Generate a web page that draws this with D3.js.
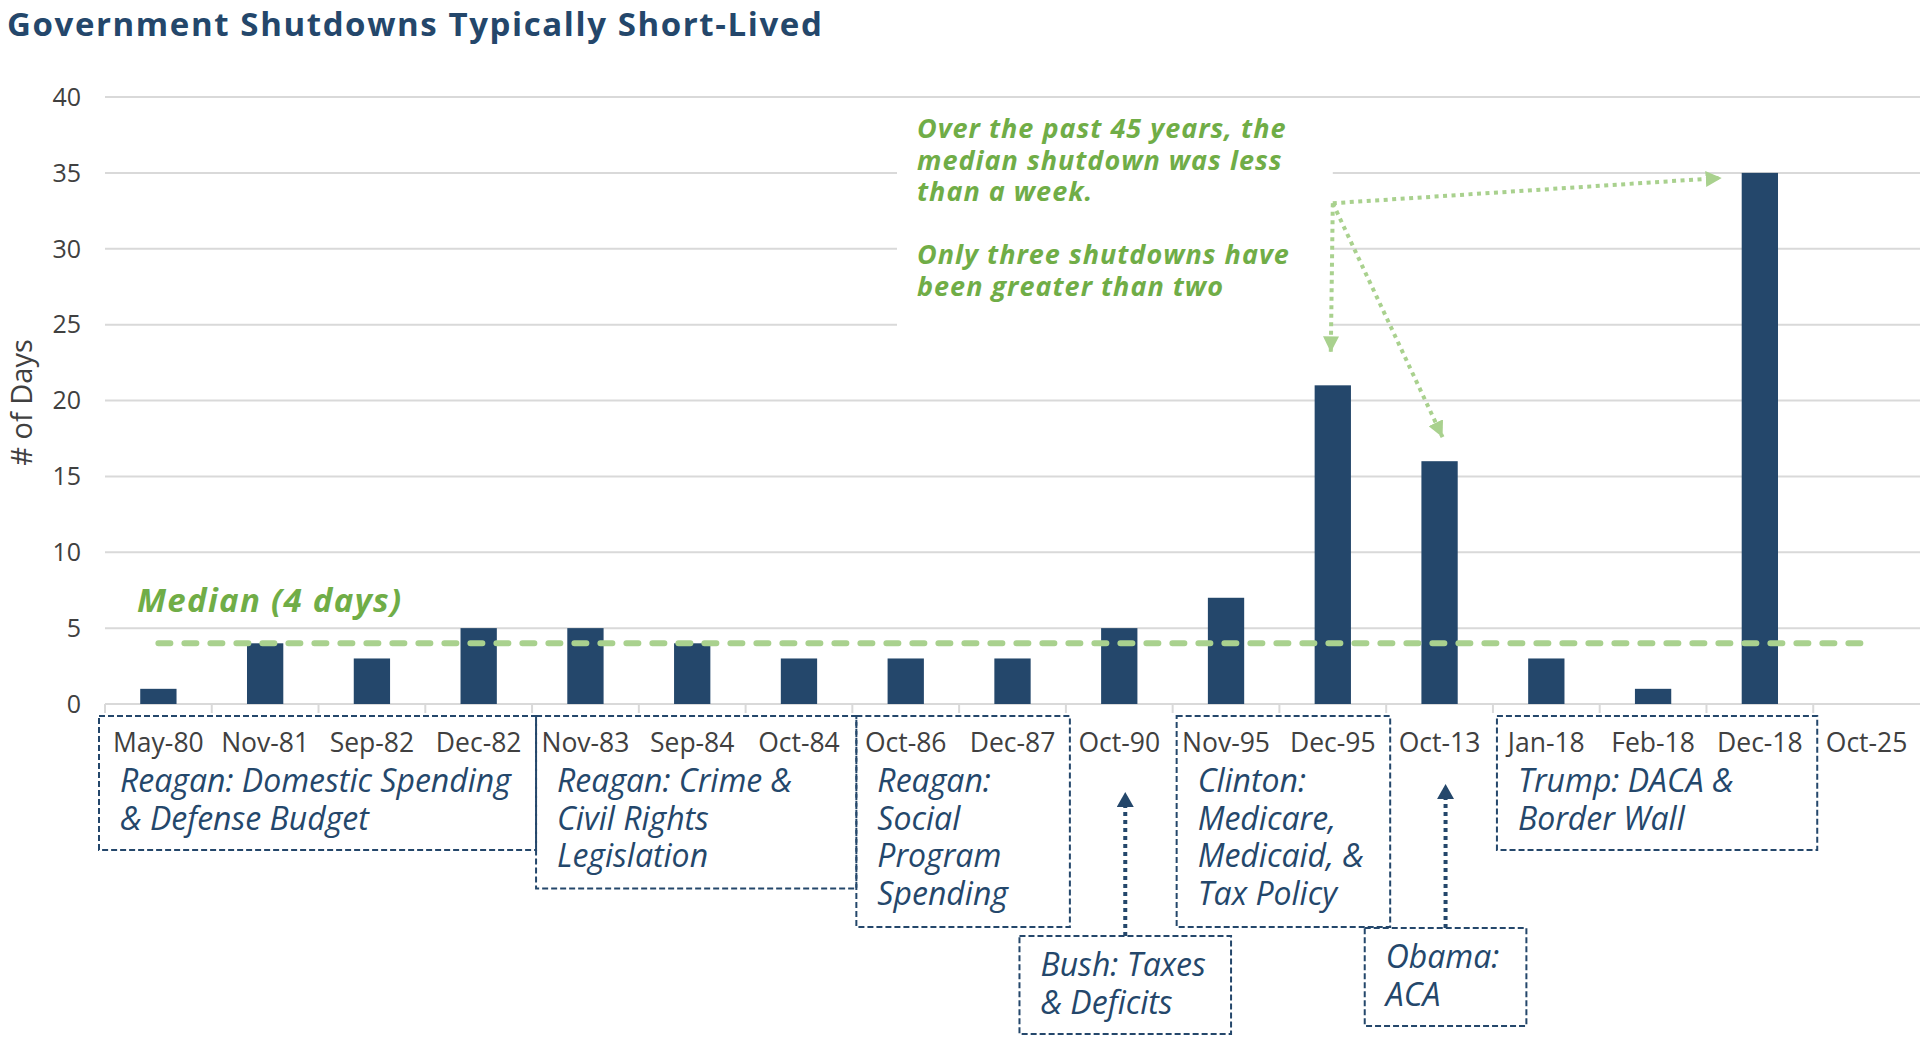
<!DOCTYPE html>
<html>
<head>
<meta charset="utf-8">
<script src="https://cdn.jsdelivr.net/npm/d3@7"></script>
<style>
	body { margin: 0; background: #fff; }
	svg text { font-family: "Open Sans", sans-serif; }
</style>
</head>
<body>
<svg id="chart"></svg>
<script>
// Data
const categories = ["May-80", "Nov-81", "Sep-82", "Dec-82", "Nov-83", "Sep-84", "Oct-84", "Oct-86", "Dec-87",
	"Oct-90", "Nov-95", "Dec-95", "Oct-13", "Jan-18", "Feb-18", "Dec-18", "Oct-25"];
const days = [1, 4, 3, 5, 5, 4, 3, 3, 3, 5, 7, 21, 16, 3, 1, 35, 0];
const yTicks = [0, 5, 10, 15, 20, 25, 30, 35, 40];
const medianDays = 4;
const medianLabel = "Median (4 days)";
const titleText = "Government Shutdowns Typically Short-Lived";
const yLabel = "# of Days";

// green callout text and the bars it points at
const calloutLines = ["Over the past 45 years, the", "median shutdown was less", "than a week.", "",
	"Only three shutdowns have", "been greater than two"];
const calloutTargets = ["Dec-18", "Dec-95", "Oct-13"];

// dashed boxes that group the x labels by administration
const groupBoxes = [
	{ from: "May-80", to: "Dec-82", lines: ["Reagan: Domestic Spending", "& Defense Budget"] },
	{ from: "Nov-83", to: "Oct-84", lines: ["Reagan: Crime &", "Civil Rights", "Legislation"] },
	{ from: "Oct-86", to: "Dec-87", lines: ["Reagan:", "Social", "Program", "Spending"] },
	{ from: "Nov-95", to: "Dec-95", lines: ["Clinton:", "Medicare,", "Medicaid, &", "Tax Policy"] },
	{ from: "Jan-18", to: "Dec-18", lines: ["Trump: DACA &", "Border Wall"] }
];
// boxes hanging below, with an arrow up to one label
const pointerBoxes = [
	{ at: "Oct-90", lines: ["Bush: Taxes", "& Deficits"] },
	{ at: "Oct-13", lines: ["Obama:", "ACA"] }
];

const navy = "#24476b";
const green = "#70ad47";
const lightGreen = "#a9d18e";
const grey = "#404040";

function whenDocumentLoaded(action) {
	if (document.readyState === "loading") {
		document.addEventListener("DOMContentLoaded", action);
	} else {
		action();
	}
}

whenDocumentLoaded(() => {
	const W = 1920, H = 1046;
	const svg = d3.select("#chart").attr("width", W).attr("height", H);

	const x = d3.scaleBand().domain(categories).range([105, 1920]).paddingInner(0.66).paddingOuter(0.33);
	const band = d3.scaleBand().domain(categories).range([105, 1920]); // full slots, for ticks and boxes
	const y = d3.scaleLinear().domain([0, 40]).range([704, 97]);
	const cx = c => band(c) + band.bandwidth() / 2;

	const defs = svg.append("defs");
	addArrow(defs, "arrow-green", lightGreen, 16, 16);
	addArrow(defs, "arrow-navy", navy, 15, 17);

	// title
	svg.append("text")
		.attr("x", 7).attr("y", 36)
		.attr("font-size", 33).attr("font-weight", 700)
		.attr("letter-spacing", 1.6)
		.attr("fill", navy)
		.text(titleText);

	// gridlines + y labels
	svg.append("g")
		.selectAll("line").data(yTicks).join("line")
		.attr("x1", 105).attr("x2", 1920)
		.attr("y1", d => y(d)).attr("y2", d => y(d))
		.attr("stroke", "#d9d9d9").attr("stroke-width", 2);

	svg.append("g")
		.selectAll("text").data(yTicks).join("text")
		.attr("x", 81).attr("y", d => y(d)).attr("dy", "0.35em")
		.attr("text-anchor", "end")
		.attr("font-size", 25).attr("fill", grey)
		.text(d => d);

	svg.append("text")
		.attr("transform", `translate(32,${y(20) + 2}) rotate(-90)`)
		.attr("text-anchor", "middle")
		.attr("font-size", 29).attr("fill", grey)
		.text(yLabel);

	// tick marks below the zero line
	svg.append("g")
		.selectAll("line").data(categories).join("line")
		.attr("x1", d => band(d)).attr("x2", d => band(d))
		.attr("y1", y(0)).attr("y2", y(0) + 9)
		.attr("stroke", "#d9d9d9").attr("stroke-width", 2);

	// white patch behind the callout text (hides gridlines)
	const origin = [cx("Dec-95"), y(33)];
	const callout = svg.append("g");
	const calloutBg = callout.append("rect").attr("fill", "#fff");
	const calloutText = callout.append("text")
		.attr("font-size", 27).attr("font-weight", 700).attr("font-style", "italic")
		.attr("letter-spacing", 1)
		.attr("fill", green);
	calloutText.selectAll("tspan").data(calloutLines).join("tspan")
		.attr("x", 917).attr("y", (d, i) => 138 + i * 31.5)
		.text(d => d);
	const bb = calloutText.node().getBBox();
	calloutBg.attr("x", bb.x - 20).attr("y", bb.y - 4)
		.attr("width", origin[0] - bb.x + 20).attr("height", bb.height + 36);

	// bars
	svg.append("g")
		.selectAll("rect").data(categories).join("rect")
		.attr("x", d => x(d))
		.attr("y", (d, i) => y(days[i]))
		.attr("width", x.bandwidth())
		.attr("height", (d, i) => y(0) - y(days[i]))
		.attr("fill", navy);

	// median line + label
	svg.append("line")
		.attr("x1", cx(categories[0])).attr("x2", cx(categories[categories.length - 1]))
		.attr("y1", y(medianDays)).attr("y2", y(medianDays))
		.attr("stroke", lightGreen).attr("stroke-width", 6)
		.attr("stroke-dasharray", "12 14").attr("stroke-linecap", "round");

	svg.append("text")
		.attr("x", 137).attr("y", 612)
		.attr("font-size", 33).attr("font-weight", 700).attr("font-style", "italic")
		.attr("letter-spacing", 1.3)
		.attr("fill", green)
		.text(medianLabel);

	// green dotted arrows from the callout
	calloutTargets.forEach(c => {
		const i = categories.indexOf(c);
		let tip;
		if (c === "Dec-18") tip = [x(c) - 20, y(days[i]) + 5];
		else tip = [cx(c) + (c === "Oct-13" ? 3 : -2), y(days[i]) - (c === "Oct-13" ? 24 : 33)];
		svg.append("line")
			.attr("x1", origin[0]).attr("y1", origin[1])
			.attr("x2", tip[0]).attr("y2", tip[1])
			.attr("stroke", lightGreen).attr("stroke-width", 4)
			.attr("stroke-dasharray", "4 4.5")
			.attr("marker-end", "url(#arrow-green)");
	});

	// x labels
	svg.append("g")
		.selectAll("text").data(categories).join("text")
		.attr("x", d => cx(d)).attr("y", 752)
		.attr("text-anchor", "middle")
		.attr("font-size", 26.5).attr("fill", grey)
		.text(d => d);

	// group boxes
	groupBoxes.forEach((b, k) => {
		const left = band(b.from) + (k === 0 ? -6 : 4);
		const right = band(b.to) + band.bandwidth() + 4;
		const top = 716;
		const bottom = 850 + (b.lines.length - 2) * 38.5;
		drawBox(svg, left, top, right, bottom, b.lines, 792);
	});

	// pointer boxes with arrows
	pointerBoxes.forEach((b, k) => {
		const ax = cx(b.at) + 6;
		const top = k === 0 ? 936 : 928;
		const g = svg.append("g");
		const t = addLines(g, b.lines, 0, top + 40);
		const w = t.node().getBBox().width + 21 + 25;
		const left = ax - w / 2;
		t.selectAll("tspan").attr("x", left + 21);
		g.append("rect")
			.attr("x", left).attr("y", top).attr("width", w).attr("height", 98)
			.attr("fill", "none").attr("stroke", navy).attr("stroke-width", 2)
			.attr("stroke-dasharray", "6 3");
		svg.append("line")
			.attr("x1", ax).attr("x2", ax)
			.attr("y1", top).attr("y2", k === 0 ? 792 : 784)
			.attr("stroke", navy).attr("stroke-width", 4)
			.attr("stroke-dasharray", "4 4")
			.attr("marker-end", "url(#arrow-navy)");
	});
});

function addArrow(defs, id, color, len, wid) {
	defs.append("marker")
		.attr("id", id)
		.attr("markerUnits", "userSpaceOnUse")
		.attr("viewBox", `0 0 ${len} ${wid}`)
		.attr("refX", len).attr("refY", wid / 2)
		.attr("markerWidth", len).attr("markerHeight", wid)
		.attr("orient", "auto")
		.append("path")
		.attr("d", `M0,0L${len},${wid / 2}L0,${wid}Z`)
		.attr("fill", color);
}

function addLines(g, lines, x0, y0) {
	const t = g.append("text")
		.attr("font-size", 32).attr("font-style", "italic")
		.attr("fill", navy);
	t.selectAll("tspan").data(lines).join("tspan")
		.attr("x", x0).attr("y", (d, i) => y0 + i * 37.5)
		.text(d => d);
	return t;
}

function drawBox(svg, left, top, right, bottom, lines, firstBaseline) {
	const g = svg.append("g");
	g.append("rect")
		.attr("x", left).attr("y", top)
		.attr("width", right - left).attr("height", bottom - top)
		.attr("fill", "none").attr("stroke", navy).attr("stroke-width", 2)
		.attr("stroke-dasharray", "6 3");
	addLines(g, lines, left + 21, firstBaseline);
}
</script>
</body>
</html>
